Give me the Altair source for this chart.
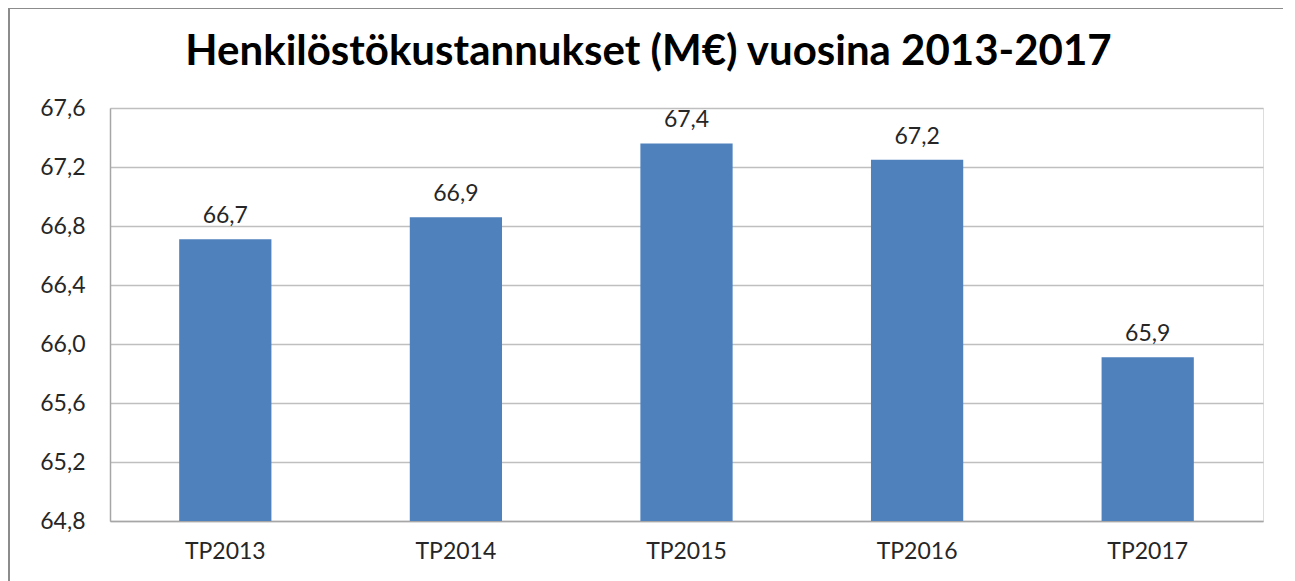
import altair as alt
import pandas as pd

categories = ["TP2013", "TP2014", "TP2015", "TP2016", "TP2017"]
values = [66.71, 66.86, 67.36, 67.25, 65.91]
labels = ["66,7", "66,9", "67,4", "67,2", "65,9"]
y_ticks = [64.8, 65.2, 65.6, 66.0, 66.4, 66.8, 67.2, 67.6]

df = pd.DataFrame({"cat": categories, "val": values, "lab": labels})

FONT = "Lato"
TEXT = "#262626"

x = alt.X("cat:N", sort=categories, title=None,
          scale=alt.Scale(paddingInner=0.6, paddingOuter=0.3),
          axis=alt.Axis(labelAngle=0, labelFont=FONT, labelFontSize=23,
                        labelColor=TEXT, labelPadding=19, ticks=False,
                        domainColor="#A6A6A6", domainWidth=1.5))
y = alt.Y("val:Q", title=None,
          scale=alt.Scale(domain=[64.8, 67.6], zero=False, nice=False),
          axis=alt.Axis(values=y_ticks, labelFont=FONT, labelFontSize=23,
                        labelColor=TEXT, labelPadding=25, ticks=False,
                        domainColor="#A6A6A6", domainWidth=1.5,
                        gridColor="#BFBFBF", gridWidth=1.5,
                        labelExpr="replace(format(datum.value, '.1f'), '.', ',')"))

bars = alt.Chart(df).mark_bar(color="#4F81BD", clip=True).encode(x=x, y=y)
text = alt.Chart(df).mark_text(font=FONT, fontSize=23, color=TEXT, dy=-23).encode(
    x=alt.X("cat:N", sort=categories), y="val:Q", text="lab:N")

frame = alt.Chart(df).mark_rect(fill=None, stroke="#8C8C8C", strokeWidth=1.5).encode(
    x=alt.value(-101), x2=alt.value(1177), y=alt.value(-100), y2=alt.value(600))

chart = alt.layer(frame, bars, text).properties(
    width=1153, height=413,
    title=alt.TitleParams("Henkilöstökustannukset (M€) vuosina 2013-2017",
                          font=FONT, fontSize=42, fontWeight="bold", color="#000000",
                          anchor="middle", offset=0, dy=67, dx=-38),
    autosize=alt.AutoSizeParams(type="none"),
    padding={"left": 102, "top": 100, "right": 20, "bottom": 60},
).configure_view(stroke=None).configure(background="white")

chart.save("out.html", embed_options={"renderer": "svg", "actions": False})
